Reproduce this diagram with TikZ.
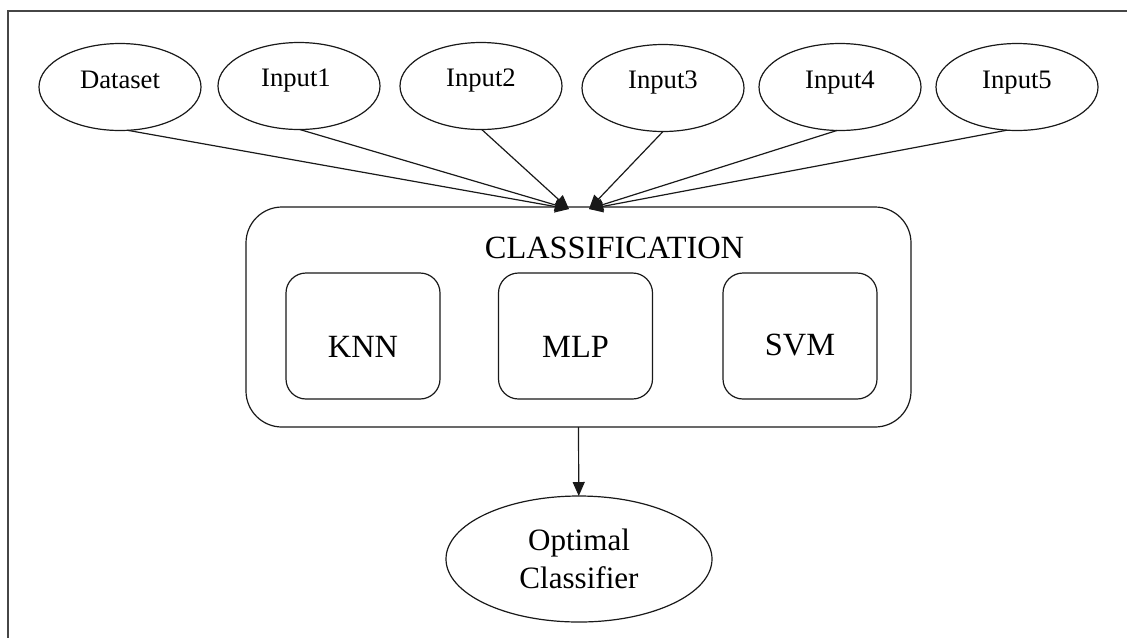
\documentclass[tikz,border=0pt]{standalone}
\usepackage{fontspec}
\setmainfont{Liberation Serif}
\usetikzlibrary{arrows.meta,shapes.geometric,calc}

\definecolor{framegray}{RGB}{70,70,70}
\definecolor{ink}{RGB}{25,25,25}

\begin{document}
\begin{tikzpicture}[x=0.75pt,y=-0.75pt,
  every node/.style={inner sep=0pt,outer sep=0pt},
  src/.style={draw=ink,line width=0.9pt,ellipse,
    minimum width=162*0.75pt,minimum height=87*0.75pt},
  srctext/.style={anchor=base,font=\fontsize{20}{24}\selectfont},
  cluster/.style={draw=ink,line width=0.9pt,rectangle,rounded corners=27pt,
    minimum width=665*0.75pt,minimum height=220*0.75pt},
  algo/.style={draw=ink,line width=0.9pt,rectangle,rounded corners=15pt,
    minimum width=154*0.75pt,minimum height=126*0.75pt},
  bigtext/.style={anchor=base,font=\fontsize{24.3}{28}\selectfont},
  goal/.style={draw=ink,line width=0.9pt,ellipse,align=center,
    minimum width=266*0.75pt,minimum height=126*0.75pt,
    font=\fontsize{23.3}{28.5}\selectfont},
  arr/.style={draw=ink,line width=0.9pt,-{Triangle[length=10.5pt,width=9pt]}}
]
\useasboundingbox (0,0) rectangle (1127,637);

% page frame (only the left and top edges fall inside the page)
\draw[framegray,line width=1.6pt] (8,660) -- (8,11) -- (1150,11);

% input nodes
\node[src] (ds) at (120,87) {};
\node[src] (in1) at (299,86) {};
\node[src] (in2) at (481,86) {};
\node[src] (in3) at (663,88) {};
\node[src] (in4) at (840,87) {};
\node[src] (in5) at (1017,87) {};

\node[srctext] (ds-t) at ($(ds.center)+(0,1)$) {Dataset};
\node[srctext] (in1-t) at ($(in1.center)+(-3,0)$) {Input1};
\node[srctext] (in2-t) at ($(in2.center)+(0,0)$) {Input2};
\node[srctext] (in3-t) at ($(in3.center)+(0,0)$) {Input3};
\node[srctext] (in4-t) at ($(in4.center)+(0,1)$) {Input4};
\node[srctext] (in5-t) at ($(in5.center)+(0,1)$) {Input5};

% classification cluster
\node[cluster] (cls) at (578.5,317) {};
\node[bigtext] (cls-t) at (614.5,258) {CLASSIFICATION};

\node[algo] (knn) at (363,336) {};
\node[algo] (mlp) at (575.5,336) {};
\node[algo] (svm) at (800,336) {};
\node[bigtext] (knn-t) at ($(knn.center)+(0,21)$) {KNN};
\node[bigtext] (mlp-t) at ($(mlp.center)+(0,21)$) {MLP};
\node[bigtext] (svm-t) at ($(svm.center)+(0,19)$) {SVM};

% arrow ends on the cluster border
\coordinate (tipL) at (569,209);
\coordinate (tipR) at (589,209);

% edges leave each input from the bottom of its ellipse
\draw[arr] (ds.-80) -- (tipL);
\draw[arr] (in1.-89) -- (tipL);
\draw[arr] (in2.-89) -- (tipL);
\draw[arr] (in3.south) -- (tipR);
\draw[arr] (in4.-94) -- (tipR);
\draw[arr] (in5.-103) -- (tipR);

% result
\node[goal] (opt) at (579,559) {Optimal\\Classifier};
\draw[arr] (cls.south) -- (opt);
\end{tikzpicture}
\end{document}
